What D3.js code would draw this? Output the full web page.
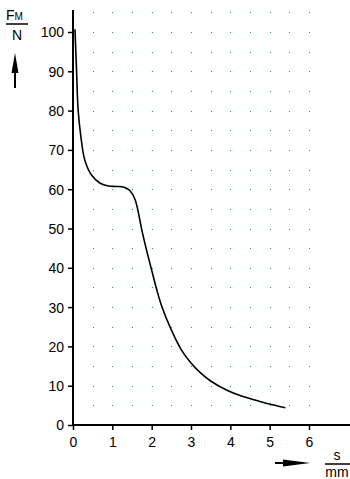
<!DOCTYPE html>
<head>
<meta charset="UTF-8">
<script src="https://d3js.org/d3.v7.min.js"></script>
<style>
  body { margin: 0; background: #fff; }
  text { font-family: "Liberation Sans", Arial, sans-serif; fill: #000; }
</style>
</head>
<svg></svg>
<script>

var width = 350, height = 479;

// curve F_M over s
var sVals = [0.05, 0.09, 0.13, 0.2, 0.3, 0.47, 0.69, 0.9, 1.1, 1.3, 1.45, 1.58, 1.75, 1.87, 2.0, 2.13, 2.26, 2.5, 2.75, 3.0, 3.25, 3.5, 3.9, 4.3, 4.75, 5.1, 5.4];
var fVals = [100.7, 90.3, 80.2, 73.4, 67.4, 63.6, 61.5, 60.8, 60.7, 60.5, 59.6, 57.3, 49.6, 44.5, 39.4, 34.4, 30.1, 24.2, 19.2, 15.8, 13.2, 11.2, 8.9, 7.3, 6, 5.1, 4.4];

var xTicks = [0, 1, 2, 3, 4, 5, 6];
var yTicks = [0, 10, 20, 30, 40, 50, 60, 70, 80, 90, 100];
var dotX = d3.range(1, 13).map(function (i) { return i * 0.5; });   // 0.5 .. 6
var dotY = d3.range(1, 22).map(function (i) { return i * 5; });     // 5 .. 105

var x = d3.scaleLinear().domain([0, 6]).range([73, 309]);
var y = d3.scaleLinear().domain([0, 100]).range([425, 32]);

var svg = d3.select("svg").attr("width", width).attr("height", height);

// green dot grid
var dots = svg.append("g").attr("class", "dots");
dotY.forEach(function (v) {
  dots.selectAll(null)
    .data(dotX)
    .enter().append("rect")
    .attr("x", function (d) { return Math.round(x(d)); })
    .attr("y", Math.round(y(v)))
    .attr("width", 1)
    .attr("height", 1)
    .attr("fill", "#1a9e4e");
});

// axes
var yAxis = d3.axisLeft(y).tickValues(yTicks).tickSize(5).tickPadding(4).tickFormat(d3.format("d"));
var xAxis = d3.axisBottom(x).tickValues(xTicks).tickSize(5).tickPadding(4).tickFormat(d3.format("d"));

var gy = svg.append("g").attr("transform", "translate(73,0)").call(yAxis);
var gx = svg.append("g").attr("transform", "translate(0,425)").call(xAxis);

[gy, gx].forEach(function (g) {
  g.select(".domain").remove();
  g.selectAll(".tick line").attr("stroke", "#000").attr("stroke-width", 1.5);
  g.selectAll(".tick text").style("font-size", "14px").attr("fill", "#000");
});
gx.selectAll(".tick text").attr("dy", "0.9em");
gy.selectAll(".tick text").attr("dy", "0.35em");

svg.append("line").attr("x1", 73).attr("x2", 73).attr("y1", 10).attr("y2", 426)
  .attr("stroke", "#000").attr("stroke-width", 2);
svg.append("line").attr("x1", 72).attr("x2", 350).attr("y1", 425).attr("y2", 425)
  .attr("stroke", "#000").attr("stroke-width", 2);

// the curve
var pts = sVals.map(function (s, i) { return [s, fVals[i]]; });
var line = d3.line()
  .x(function (d) { return x(d[0]); })
  .y(function (d) { return y(d[1]); })
  .curve(d3.curveCatmullRom.alpha(0.5));

svg.append("path")
  .datum(pts)
  .attr("d", line)
  .attr("fill", "none")
  .attr("stroke", "#000")
  .attr("stroke-width", 1.6);

// y label: F_M / N with arrow up
var yl = svg.append("g");
yl.append("text").attr("x", 6).attr("y", 20).style("font-size", "14px").text("F")
  .append("tspan").style("font-size", "10px").text("M");
yl.append("line").attr("x1", 6).attr("x2", 28).attr("y1", 24).attr("y2", 24)
  .attr("stroke", "#000").attr("stroke-width", 1.5);
yl.append("text").attr("x", 17).attr("y", 40).attr("text-anchor", "middle")
  .style("font-size", "14px").text("N");
yl.append("line").attr("x1", 15).attr("x2", 15).attr("y1", 88).attr("y2", 68)
  .attr("stroke", "#000").attr("stroke-width", 2);
yl.append("path").attr("d", "M15,53 L11.5,73 L18.5,73 Z").attr("fill", "#000");

// x label: s / mm with arrow right
var xl = svg.append("g");
xl.append("line").attr("x1", 275).attr("x2", 290).attr("y1", 463).attr("y2", 463)
  .attr("stroke", "#000").attr("stroke-width", 2);
xl.append("path").attr("d", "M310,463 L283,459.5 L283,466.5 Z").attr("fill", "#000");
xl.append("text").attr("x", 337).attr("y", 460).attr("text-anchor", "middle")
  .style("font-size", "14px").text("s");
xl.append("line").attr("x1", 325).attr("x2", 350).attr("y1", 464).attr("y2", 464)
  .attr("stroke", "#000").attr("stroke-width", 1.5);
xl.append("text").attr("x", 337).attr("y", 477).attr("text-anchor", "middle")
  .style("font-size", "14px").text("mm");

</script>
